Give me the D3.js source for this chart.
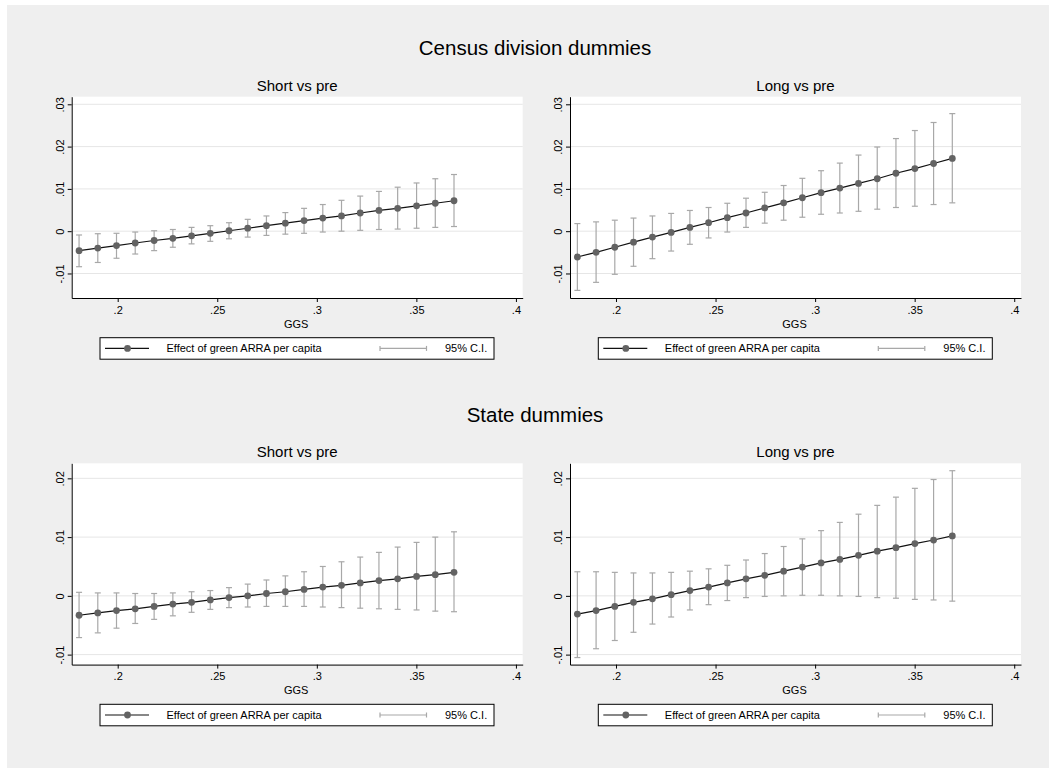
<!DOCTYPE html>
<html>
<head>
<meta charset="utf-8">
<script src="https://cdn.jsdelivr.net/npm/d3@7"></script>
<style>
  body { margin: 0; background: #fff; }
  svg { display: block; font-family: "Liberation Sans", Arial, sans-serif; }
</style>
</head>
<body>
<svg id="chart" width="1049" height="768"></svg>
<script>
// --- data ---
const ggs = [0.1806, 0.1900, 0.1994, 0.2088, 0.2183, 0.2277, 0.2371, 0.2465, 0.2559, 0.2653, 0.2747,
             0.2842, 0.2936, 0.3030, 0.3124, 0.3218, 0.3312, 0.3406, 0.3501, 0.3595, 0.3689];

// Census division dummies, short vs pre
const cdShortEff = [-0.0046, -0.0040, -0.0034, -0.0028, -0.0022, -0.0017, -0.0011, -0.0005, 0.0001, 0.0007, 0.0013,
                    0.0019, 0.0025, 0.0031, 0.0036, 0.0043, 0.0049, 0.0054, 0.0060, 0.0066, 0.0072];
const cdShortHi = [-0.0009, -0.0006, -0.0005, -0.0002, 0.0001, 0.0004, 0.0009, 0.0013, 0.0020, 0.0028, 0.0036,
                   0.0044, 0.0054, 0.0063, 0.0073, 0.0083, 0.0094, 0.0104, 0.0114, 0.0124, 0.0134];
const cdShortLo = [-0.0084, -0.0074, -0.0064, -0.0054, -0.0046, -0.0038, -0.0030, -0.0024, -0.0018, -0.0014, -0.0010,
                   -0.0007, -0.0005, -0.0002, 0.0000, 0.0002, 0.0004, 0.0005, 0.0007, 0.0009, 0.0011];

// Census division dummies, long vs pre
const cdLongEff = [-0.0061, -0.0050, -0.0038, -0.0026, -0.0014, -0.0003, 0.0009, 0.0020, 0.0032, 0.0043, 0.0055,
                   0.0067, 0.0079, 0.0091, 0.0102, 0.0113, 0.0124, 0.0137, 0.0148, 0.0160, 0.0172];
const cdLongHi = [0.0018, 0.0022, 0.0026, 0.0031, 0.0036, 0.0042, 0.0049, 0.0056, 0.0066, 0.0078, 0.0092,
                  0.0108, 0.0125, 0.0143, 0.0161, 0.0180, 0.0199, 0.0219, 0.0238, 0.0257, 0.0278];
const cdLongLo = [-0.0140, -0.0121, -0.0102, -0.0083, -0.0065, -0.0047, -0.0031, -0.0016, -0.0002, 0.0009, 0.0019,
                  0.0026, 0.0033, 0.0040, 0.0043, 0.0047, 0.0052, 0.0056, 0.0059, 0.0063, 0.0067];

// State dummies, short vs pre
const stShortEff = [-0.0033, -0.0029, -0.0025, -0.0022, -0.0018, -0.0014, -0.0011, -0.0007, -0.0003, 0.0000, 0.0004,
                    0.0007, 0.0011, 0.0015, 0.0018, 0.0022, 0.0026, 0.0029, 0.0033, 0.0036, 0.0040];
const stShortHi = [0.0006, 0.0005, 0.0005, 0.0004, 0.0004, 0.0005, 0.0007, 0.0009, 0.0014, 0.0020, 0.0027,
                   0.0034, 0.0041, 0.0050, 0.0058, 0.0066, 0.0074, 0.0083, 0.0091, 0.0100, 0.0109];
const stShortLo = [-0.0071, -0.0063, -0.0055, -0.0047, -0.0040, -0.0034, -0.0028, -0.0023, -0.0020, -0.0019, -0.0018,
                   -0.0018, -0.0018, -0.0019, -0.0020, -0.0021, -0.0022, -0.0023, -0.0024, -0.0026, -0.0027];

// State dummies, long vs pre
const stLongEff = [-0.0031, -0.0025, -0.0018, -0.0011, -0.0005, 0.0002, 0.0009, 0.0015, 0.0022, 0.0029, 0.0035,
                   0.0042, 0.0049, 0.0056, 0.0062, 0.0069, 0.0076, 0.0082, 0.0089, 0.0095, 0.0102];
const stLongHi = [0.0041, 0.0041, 0.0040, 0.0039, 0.0039, 0.0040, 0.0042, 0.0046, 0.0052, 0.0061, 0.0072,
                  0.0084, 0.0097, 0.0111, 0.0125, 0.0139, 0.0154, 0.0168, 0.0183, 0.0198, 0.0213];
const stLongLo = [-0.0105, -0.0090, -0.0076, -0.0062, -0.0048, -0.0036, -0.0024, -0.0015, -0.0008, -0.0003, -0.0001,
                  0.0000, 0.0001, 0.0001, 0.0000, -0.0001, -0.0003, -0.0004, -0.0006, -0.0007, -0.0009];

const xTicks = [0.2, 0.25, 0.3, 0.35, 0.4];
const yTicksCensus = [-0.01, 0, 0.01, 0.02, 0.03];
const yTicksState = [-0.01, 0, 0.01, 0.02];

const groupTitles = ["Census division dummies", "State dummies"];
const panelTitles = ["Short vs pre", "Long vs pre"];
const legendLabels = ["Effect of green ARRA per capita", "95% C.I."];
const xTitle = "GGS";

// --- layout ---
const svg = d3.select('#chart');
svg.append('rect').attr('x', 7).attr('y', 5).attr('width', 1042).attr('height', 763).attr('fill', '#efefef');

const fmt = v => v === 0 ? '0' : String(+v.toFixed(3)).replace(/^(-?)0\./, '$1.');

const rows = [
    { title: groupTitles[0], top: 96.7, yDomain: [-0.0158, 0.0318], yTicks: yTicksCensus,
      series: [[cdShortEff, cdShortLo, cdShortHi], [cdLongEff, cdLongLo, cdLongHi]] },
    { title: groupTitles[1], top: 463.3, yDomain: [-0.0117, 0.02256], yTicks: yTicksState,
      series: [[stShortEff, stShortLo, stShortHi], [stLongEff, stLongLo, stLongHi]] }
];
const cols = [71.7, 570];
const plotW = 451, plotH = 201.3;

function drawPanel(row, col, ci) {
    const left = cols[ci], top = row.top;
    const [eff, lo, hi] = row.series[ci];
    const x = d3.scaleLinear().domain([0.1769, 0.4034]).range([left, left + plotW]);
    const y = d3.scaleLinear().domain(row.yDomain).range([top + plotH, top]);
    const g = svg.append('g');

    // plot region
    g.append('rect').attr('x', left).attr('y', top).attr('width', plotW).attr('height', plotH).attr('fill', '#fff');

    // grid
    g.selectAll('.grid').data(row.yTicks).enter().append('line')
        .attr('x1', left).attr('x2', left + plotW)
        .attr('y1', d => y(d)).attr('y2', d => y(d))
        .attr('stroke', '#e6e6e6').attr('stroke-width', 1);

    // subtitle
    g.append('text').attr('x', left + plotW / 2).attr('y', top - 6)
        .attr('text-anchor', 'middle').attr('font-size', 15).attr('fill', '#000')
        .text(panelTitles[ci]);

    // CI bars
    const pts = ggs.map((v, i) => ({ x: v, b: eff[i], lo: lo[i], hi: hi[i] }));
    const ciG = g.append('g').attr('stroke', '#a8a8a8').attr('stroke-width', 1.2).attr('fill', 'none');
    ciG.selectAll('.v').data(pts).enter().append('line')
        .attr('x1', d => x(d.x)).attr('x2', d => x(d.x))
        .attr('y1', d => y(d.lo)).attr('y2', d => y(d.hi));
    ['lo', 'hi'].forEach(k => {
        ciG.selectAll('.c' + k).data(pts).enter().append('line')
            .attr('x1', d => x(d.x) - 3).attr('x2', d => x(d.x) + 3)
            .attr('y1', d => y(d[k])).attr('y2', d => y(d[k]));
    });

    // effect line and markers
    g.append('path').datum(pts)
        .attr('d', d3.line().x(d => x(d.x)).y(d => y(d.b)))
        .attr('fill', 'none').attr('stroke', '#111').attr('stroke-width', 1.2);
    g.selectAll('.m').data(pts).enter().append('circle')
        .attr('cx', d => x(d.x)).attr('cy', d => y(d.b)).attr('r', 3.4)
        .attr('fill', '#636363');

    // axes
    const ya = g.append('g').attr('transform', `translate(${left},0)`)
        .call(d3.axisLeft(y).tickValues(row.yTicks).tickFormat(fmt).tickSize(4).tickSizeOuter(0));
    ya.selectAll('text').attr('transform', 'rotate(-90)').attr('x', 0).attr('y', -8).attr('dy', 0)
        .attr('text-anchor', 'middle');
    const xa = g.append('g').attr('transform', `translate(0,${top + plotH})`)
        .call(d3.axisBottom(x).tickValues(xTicks).tickFormat(fmt).tickSize(4).tickSizeOuter(0));
    [ya, xa].forEach(a => {
        a.selectAll('text').attr('font-size', 11).attr('fill', '#000')
            .attr('font-family', '"Liberation Sans", Arial, sans-serif');
        a.selectAll('line').attr('stroke', '#000');
        a.select('.domain').attr('stroke', '#000');
    });
    xa.selectAll('text').attr('y', 8);

    g.append('text').attr('x', left + plotW / 2 - 1).attr('y', top + plotH + 29.5)
        .attr('text-anchor', 'middle').attr('font-size', 11).text(xTitle);

    // legend
    const lx = left + 28.3, ly = top + plotH + 39.7;
    const lg = g.append('g');
    lg.append('rect').attr('x', lx).attr('y', ly).attr('width', 394).attr('height', 21.5)
        .attr('fill', '#fff').attr('stroke', '#000').attr('stroke-width', 1);
    const my = ly + 10.7;
    lg.append('line').attr('x1', lx + 5).attr('x2', lx + 49).attr('y1', my).attr('y2', my)
        .attr('stroke', '#111').attr('stroke-width', 1.2);
    lg.append('circle').attr('cx', lx + 27.5).attr('cy', my).attr('r', 3.4).attr('fill', '#636363');
    lg.append('text').attr('x', lx + 66.5).attr('y', my + 4).attr('font-size', 11).text(legendLabels[0]);
    const cg = lg.append('g').attr('stroke', '#a8a8a8').attr('stroke-width', 1.2);
    cg.append('line').attr('x1', lx + 280).attr('x2', lx + 326.5).attr('y1', my).attr('y2', my);
    cg.append('line').attr('x1', lx + 280).attr('x2', lx + 280).attr('y1', my - 2.5).attr('y2', my + 2.5);
    cg.append('line').attr('x1', lx + 326.5).attr('x2', lx + 326.5).attr('y1', my - 2.5).attr('y2', my + 2.5);
    lg.append('text').attr('x', lx + 345).attr('y', my + 4).attr('font-size', 11).text(legendLabels[1]);
}

rows.forEach((row, ri) => {
    svg.append('text').attr('x', 535).attr('y', row.top - 41.5)
        .attr('text-anchor', 'middle').attr('font-size', 20.5).attr('fill', '#000')
        .text(row.title);
    cols.forEach((c, ci) => drawPanel(row, c, ci));
});
</script>
</body>
</html>
